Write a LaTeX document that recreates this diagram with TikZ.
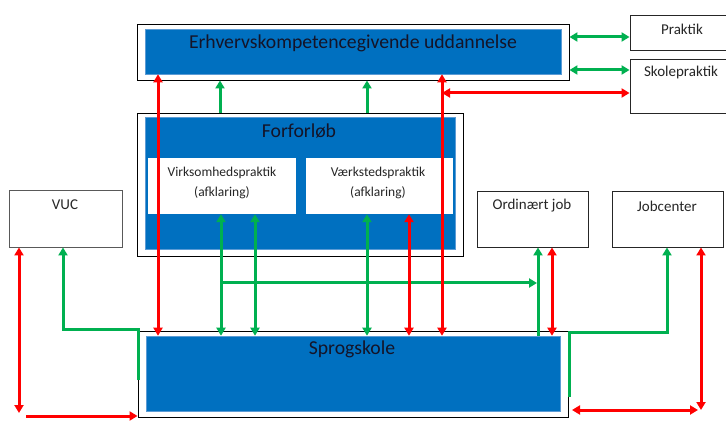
\documentclass[tikz,border=0pt]{standalone}
\usepackage{fontspec}
\setmainfont{Carlito}
\usetikzlibrary{arrows.meta}
\definecolor{boxblue}{RGB}{0,112,192}
\definecolor{edgeblue}{RGB}{91,155,213}
\definecolor{arrgreen}{RGB}{0,176,80}
\definecolor{arrred}{RGB}{255,0,0}
\definecolor{txtdark}{RGB}{20,20,40}

\begin{document}
\begin{tikzpicture}[x=1pt,y=-1pt,
    outer_box/.style={rectangle,draw=black,line width=0.9pt,fill=white,inner sep=0pt},
    blue_box/.style={rectangle,draw=edgeblue,line width=0.6pt,fill=boxblue,inner sep=0pt},
    white_box/.style={rectangle,fill=white,inner sep=0pt},
    side_box/.style={rectangle,draw=black!85,line width=0.9pt,fill=white,inner sep=0pt,minimum width=111pt,minimum height=56pt},
    big_txt/.style={inner sep=0pt,text=txtdark,font=\fontsize{19.7}{22}\selectfont},
    small_txt/.style={inner sep=0pt,text=black!85,font=\fontsize{15}{18}\selectfont},
    inner_txt/.style={inner sep=0pt,text=black!85,align=center,font=\fontsize{13.5}{20}\selectfont},
    g_arrow/.style={draw=arrgreen,line width=3pt,>={Triangle[length=8pt,width=9pt]}},
    r_arrow/.style={draw=arrred,line width=3pt,>={Triangle[length=8pt,width=9pt]}}]
    \useasboundingbox (0,0) rectangle (726,422);

    % top: uddannelse and the two practice boxes
    \node[outer_box,minimum width=432pt,minimum height=56pt] (erhv_out) at (353,52) {};
    \node[blue_box,minimum width=416pt,minimum height=45pt] (erhv) at (353,51.5) {};
    \node[big_txt] (erhv_txt) at (353,43) {Erhvervskompetencegivende uddannelse};
    \node[side_box,minimum width=110pt,minimum height=35pt] (praktik) at (685,32.5) {};
    \node[small_txt] (praktik_txt) at (682,29) {Praktik};
    \node[side_box,minimum width=110pt,minimum height=54pt] (skole) at (685,86) {};
    \node[small_txt] (skole_txt) at (681,73) {Skolepraktik};

    % forforloeb
    \node[outer_box,minimum width=326pt,minimum height=143pt] (forf_out) at (300,184.5) {};
    \node[blue_box,minimum width=310pt,minimum height=132pt] (forf) at (300,183) {};
    \node[big_txt] (forf_txt) at (299,131) {Forforløb};
    \node[white_box,minimum width=148pt,minimum height=56pt] (virk) at (222,186) {};
    \node[inner_txt] (virk_txt) at (222,183) {Virksomhedspraktik\\(afklaring)};
    \node[white_box,minimum width=147pt,minimum height=56pt] (vaerk) at (379.5,186) {};
    \node[inner_txt] (vaerk_txt) at (378,183) {Værkstedspraktik\\(afklaring)};

    % side boxes
    \node[side_box,draw=black!65,minimum width=113pt,minimum height=57pt] (vuc) at (65.5,218.5) {};
    \node[small_txt] (vuc_txt) at (65,205) {VUC};
    \node[side_box] (ordjob) at (532.5,219) {};
    \node[small_txt] (ordjob_txt) at (532,206) {Ordinært job};
    \node[side_box] (jobc) at (667.5,219) {};
    \node[small_txt] (jobc_txt) at (667,206) {Jobcenter};

    % sprogskole
    \node[outer_box,minimum width=430pt,minimum height=86pt] (sprog_out) at (353,374) {};
    \node[blue_box,minimum width=414pt,minimum height=75pt] (sprog) at (353,373.5) {};
    \node[big_txt] (sprog_txt) at (352,349) {Sprogskole};

    % free ends
    \coordinate (g_split) at (221,283);
    \coordinate (g_end) at (537,283);
    \coordinate (r_split) at (442,93);
    \coordinate (r_jc) at (701,410);
    \coordinate (r_jc_left) at (572,410);
    \coordinate (r_jc_right) at (698,410);
    \coordinate (r_vuc) at (19,413);
    \coordinate (r_vuc_left) at (26,416);

    % green connectors
    \draw[g_arrow,->] (220,0 |- forf_out.north) -- (220,0 |- erhv_out.south);
    \draw[g_arrow,->] (367,0 |- forf_out.north) -- (367,0 |- erhv_out.south);
    \draw[g_arrow,<->] (erhv_out.east |- 0,37) -- (praktik.west |- 0,37);
    \draw[g_arrow,<->] (erhv_out.east |- 0,70) -- (skole.west |- 0,70);
    \draw[g_arrow,->] (g_split) -- (g_end);
    \draw[g_arrow,<->] (221,0 |- virk.south) -- (221,0 |- sprog.north);
    \draw[g_arrow,<->] (255,0 |- virk.south) -- (255,0 |- sprog.north);
    \draw[g_arrow,<->] (367,0 |- vaerk.south) -- (367,0 |- sprog.north);
    \draw[g_arrow,->] (538,0 |- sprog.north) -- (538,0 |- ordjob.south);
    \draw[g_arrow,->] (569,397) -- (569,332) -| (667,0 |- jobc.south);
    \draw[g_arrow,->] (138,380) -- (138,329) -| (63,0 |- vuc.south);

    % red connectors
    \draw[r_arrow,<->] (158,0 |- erhv.south) -- (158,0 |- sprog.north);
    \draw[r_arrow,<->] (442,0 |- erhv.south) -- (442,0 |- sprog.north);
    \draw[r_arrow,<->] (r_split) -- (skole.west |- r_split);
    \draw[r_arrow,<->] (409,0 |- vaerk.south) -- (409,0 |- sprog.north);
    \draw[r_arrow,<->] (552,0 |- ordjob.south) -- (552,0 |- sprog.north);
    \draw[r_arrow,<->] (701,0 |- jobc.south) -- (r_jc);
    \draw[r_arrow,<->] (r_jc_left) -- (r_jc_right);
    \draw[r_arrow,<->] (19,0 |- vuc.south) -- (r_vuc);
    \draw[r_arrow,->] (r_vuc_left) -- (sprog_out.west |- r_vuc_left);
\end{tikzpicture}
\end{document}
